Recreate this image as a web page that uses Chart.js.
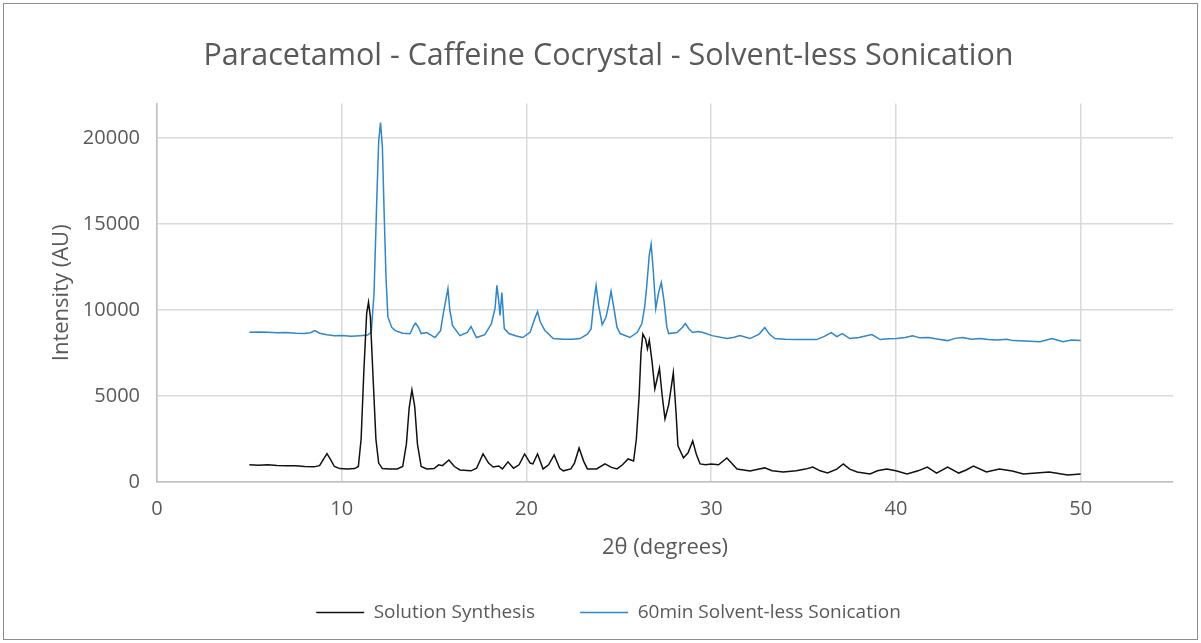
<!DOCTYPE html>
<html>
  <head>
    <title>Paracetamol - Caffeine Cocrystal</title>
    <script src="https://cdn.jsdelivr.net/npm/chart.js"></script>
    <style>
      html, body { margin: 0; padding: 0; background: #fff; }
      #wrap { width: 1201px; height: 643px; }
    </style>
  </head>
  <body>
    <div id="wrap"><canvas id="xrdChart" width="1201" height="643"></canvas></div>

    <script>
      // 2θ (degrees) and intensity (AU)
      const solutionAngles = [
        5.0, 5.5, 6.0, 6.5, 7.0, 7.5, 8.0, 8.5, 8.8, 9.0, 9.2, 9.4, 9.6, 9.9, 10.3, 10.7, 10.9,
        11.05, 11.2, 11.35, 11.45, 11.55, 11.7, 11.85, 12.0, 12.2, 12.6, 13.0, 13.3, 13.5, 13.65,
        13.8, 13.95, 14.1, 14.3, 14.6, 15.0, 15.25, 15.45, 15.8, 16.1, 16.4, 17.0, 17.3, 17.65,
        17.95, 18.2, 18.5, 18.7, 19.0, 19.3, 19.6, 19.9, 20.2, 20.35, 20.6, 20.9, 21.2, 21.5,
        21.8, 22.0, 22.4, 22.6, 22.85, 23.1, 23.3, 23.8, 24.25, 24.6, 24.9, 25.2, 25.5, 25.8,
        25.95, 26.1, 26.2, 26.3, 26.45, 26.55, 26.65, 26.8, 26.95, 27.2, 27.35, 27.5, 27.7,
        27.95, 28.1, 28.2, 28.5, 28.75, 29.0, 29.2, 29.4, 29.7, 30.0, 30.4, 30.85, 31.1, 31.4,
        32.1, 32.6, 32.9, 33.3, 33.9, 34.6, 35.1, 35.5, 35.9, 36.3, 36.8, 37.15, 37.5, 37.9,
        38.6, 39.0, 39.5, 40.0, 40.6, 41.2, 41.7, 42.2, 42.8, 43.4, 43.8, 44.2, 44.9, 45.6,
        46.3, 46.9, 47.6, 48.3, 48.8, 49.3, 50.0
      ];
      const solutionIntensity = [
        1000, 980, 1000, 960, 950, 940, 900, 880, 950, 1300, 1650, 1300, 900, 780, 760, 780, 900,
        2500, 6500, 9800, 10450, 9600, 6000, 2500, 1100, 780, 760, 760, 900, 2200, 4300,
        5350, 4400, 2200, 900, 760, 780, 1000, 950, 1280, 900, 700, 650, 800, 1630,
        1100, 870, 930, 760, 1170, 800, 1000, 1630, 1100, 1050, 1630, 760, 1000, 1570,
        800, 650, 760, 1100, 1980, 1200, 760, 760, 1050, 850, 760, 1000, 1340, 1220,
        2500, 5000, 7500, 8600, 8300, 7750, 8250, 7000, 5420, 6600, 5000, 3670, 4500,
        6350, 4000, 2100, 1400, 1700, 2390, 1600, 1050, 1000, 1050, 1000, 1400, 1100, 760,
        640, 750, 820, 650, 580, 650, 750, 870, 650, 520, 750, 1050, 750, 580,
        470, 650, 760, 650, 470, 650, 870, 520, 870, 520, 700, 930, 580, 760,
        640, 470, 520, 580, 500, 410, 470
      ];

      const sonicationAngles = [
        5.0, 5.5, 6.0, 6.5, 7.0, 7.5, 8.0, 8.3, 8.55, 8.8, 9.2, 9.6, 10.0, 10.5, 11.0, 11.4, 11.6,
        11.75, 11.9, 12.0, 12.1, 12.2, 12.3, 12.4, 12.5, 12.7, 12.9, 13.3, 13.7, 13.9, 14.0,
        14.15, 14.3, 14.6, 15.05, 15.35, 15.5, 15.6, 15.75, 15.85, 16.0, 16.4, 16.8, 17.0, 17.2,
        17.3, 17.75, 18.1, 18.3, 18.4, 18.5, 18.57, 18.67, 18.8, 19.05, 19.4, 19.8, 20.2, 20.45,
        20.6, 20.75, 21.0, 21.45, 22.0, 22.5, 22.9, 23.3, 23.5, 23.65, 23.77, 23.9, 24.1, 24.3,
        24.45, 24.58, 24.75, 24.9, 25.07, 25.6, 26.0, 26.25, 26.4, 26.5, 26.65, 26.75, 26.85,
        27.0, 27.15, 27.3, 27.45, 27.6, 27.7, 28.15, 28.45, 28.6, 28.8, 29.0, 29.3, 29.56, 30.05,
        30.85, 31.25, 31.55, 32.1, 32.6, 32.9, 33.15, 33.45, 34.0, 34.65, 35.2, 35.7, 36.1, 36.5,
        36.8, 37.1, 37.5, 38.0, 38.7, 39.15, 39.6, 40.05, 40.5, 40.9, 41.3, 41.75, 42.3, 42.8,
        43.2, 43.6, 44.1, 44.55, 45.0, 45.5, 46.0, 46.35, 47.0, 47.8, 48.45, 49.05, 49.5, 50.0
      ];
      const sonicationIntensity = [
        8700, 8720, 8700, 8680, 8690, 8650, 8640, 8680, 8800, 8650, 8560, 8500, 8520, 8480, 8510, 8540, 8700,
        11000, 16500, 19800, 20900, 19500, 15500, 11800, 9600, 9000, 8800, 8650, 8620, 9100, 9230,
        9000, 8630, 8690, 8400, 8800, 9800, 10380, 11250, 10000, 9090, 8510, 8700, 9040, 8600,
        8400, 8570, 9200, 10090, 11430, 10500, 9680, 11020, 8920, 8630, 8500, 8400, 8700, 9500,
        9900, 9300, 8800, 8340, 8300, 8300, 8340, 8600, 8900, 10500, 11430, 10300, 9150, 9560,
        10300, 11080, 10000, 9000, 8630, 8400, 8700, 9210, 10200, 11250, 13200, 13820, 12500,
        10090, 11000, 11600, 10500, 9000, 8630, 8690, 9000, 9210, 8900, 8690, 8750, 8690, 8510,
        8340, 8420, 8510, 8340, 8600, 8980, 8600, 8340, 8300, 8280, 8280, 8280, 8450, 8690,
        8450, 8630, 8340, 8400, 8570, 8280, 8330, 8340, 8400, 8500, 8380, 8400, 8300, 8220,
        8350, 8400, 8300, 8340, 8280, 8260, 8300, 8220, 8200, 8160, 8340, 8160, 8250, 8220
      ];

      const xTicks = [0, 10, 20, 30, 40, 50];
      const yTicks = [0, 5000, 10000, 15000, 20000];

      const toPoints = (xs, ys) => xs.map((x, i) => ({ x: x, y: ys[i] }));

      // white background + thin frame round the whole chart
      const frame = {
        id: "frame",
        beforeDraw(chart) {
          const c = chart.ctx;
          c.save();
          c.fillStyle = "#ffffff";
          c.fillRect(0, 0, chart.width, chart.height);
          c.strokeStyle = "#8c8c8c";
          c.lineWidth = 1;
          c.strokeRect(3.5, 3.5, chart.width - 7, chart.height - 7);
          c.restore();
        },
      };

      const textColor = "#595959";
      const gridColor = "#d9d9d9";
      const font = "Open Sans";

      new Chart(document.getElementById("xrdChart").getContext("2d"), {
        type: "line",
        data: {
          datasets: [
            {
              label: "Solution Synthesis",
              data: toPoints(solutionAngles, solutionIntensity),
              borderColor: "#111111",
              backgroundColor: "#111111",
              borderWidth: 1.5,
              pointRadius: 0,
              tension: 0,
            },
            {
              label: "60min Solvent-less Sonication",
              data: toPoints(sonicationAngles, sonicationIntensity),
              borderColor: "#2f86c9",
              backgroundColor: "#2f86c9",
              borderWidth: 1.5,
              pointRadius: 0,
              tension: 0,
            },
          ],
        },
        options: {
          responsive: false,
          animation: false,
          layout: { padding: { left: 44, right: 28, top: 0, bottom: 11 } },
          plugins: {
            title: {
              display: true,
              text: "Paracetamol - Caffeine Cocrystal - Solvent-less Sonication",
              color: textColor,
              font: { family: font, size: 30.5, weight: "normal" },
              padding: { top: 38, bottom: 29 },
            },
            legend: {
              position: "bottom",
              labels: {
                color: textColor,
                font: { family: font, size: 19 },
                boxWidth: 48,
                boxHeight: 0,
                padding: 45,
              },
            },
            tooltip: { enabled: false },
          },
          scales: {
            x: {
              type: "linear",
              min: 0,
              max: 55,
              afterBuildTicks: (s) => { s.ticks = xTicks.map((v) => ({ value: v })); },
              afterFit: (s) => { s.height = 76; },
              ticks: { color: textColor, font: { family: font, size: 20 }, padding: 15, callback: (v) => v },
              grid: { color: gridColor, lineWidth: 1.5, drawTicks: false },
              border: { color: "#bfbfbf", width: 1.5 },
              title: {
                display: true,
                text: "2θ (degrees)",
                color: textColor,
                font: { family: font, size: 22 },
                padding: { top: 0, bottom: -3 },
              },
            },
            y: {
              min: 0,
              max: 22000,
              afterBuildTicks: (s) => { s.ticks = yTicks.map((v) => ({ value: v })); },
              afterFit: (s) => { s.width = 113; },
              ticks: { color: textColor, font: { family: font, size: 20 }, padding: 17, callback: (v) => v },
              grid: { color: gridColor, lineWidth: 1.5, drawTicks: false },
              border: { color: "#bfbfbf", width: 1.5 },
              title: {
                display: true,
                text: "Intensity (AU)",
                color: textColor,
                font: { family: font, size: 22 },
                padding: { top: 5, bottom: 0 },
              },
            },
          },
        },
        plugins: [frame],
      });
    </script>
  </body>
</html>
